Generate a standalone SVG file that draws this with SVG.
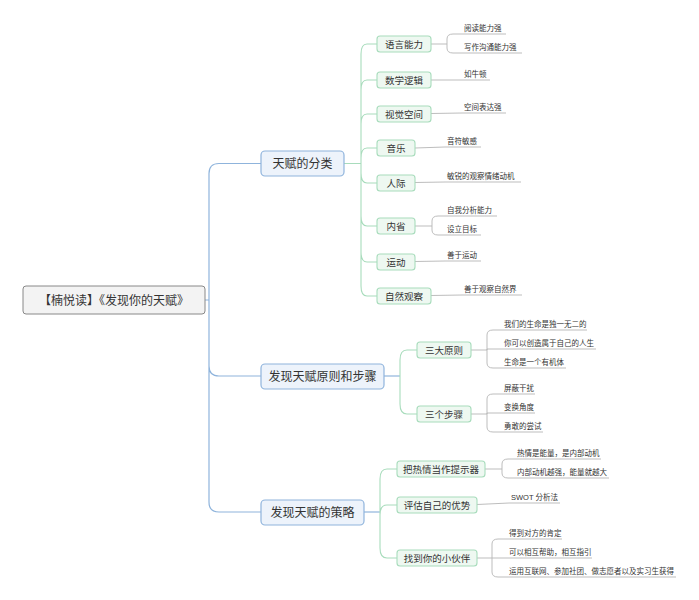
<svg xmlns="http://www.w3.org/2000/svg" width="699" height="600" viewBox="0 0 699 600">
<style>
text{font-family:"Liberation Sans","Noto Sans CJK SC",sans-serif;fill:#333}
.m{font-size:12px;text-anchor:middle}
.c{font-size:9.5px;text-anchor:middle}
.l{font-size:7.5px}
.bl{fill:none;stroke:#8fb4dc;stroke-width:1.2}
.gr{fill:none;stroke:#a8dcbc;stroke-width:1.1}
.gy{fill:none;stroke:#b5b5b5;stroke-width:0.9}
.mb{fill:#edf3fb;stroke:#8fb4dc;stroke-width:1.2}
.cb{fill:#eef8f1;stroke:#a8dcbc;stroke-width:1.1}
</style>
<rect width="699" height="600" fill="#fff"/>
<g id="connectors">
<path class="bl" d="M205 300H209M261 163.5H219Q209 163.5 209 173.5V502Q209 512 219 512H261M209 366Q209 376 219 376H261"/>
<path class="gr" d="M344 163.5H361M361 163.5V54Q361 44 367 44H377M361 90Q361 80 367 80H377M361 124Q361 114 367 114H377M361 158Q361 148 367 148H377M361 173Q361 183 367 183H377M361 216Q361 226 367 226H377M361 252Q361 262 367 262H377M361 163.5V286Q361 296 367 296H377"/>
<path class="bl" d="M384 376H400"/>
<path class="gr" d="M400 376V360Q400 350 407 350H417M400 376V404Q400 414 407 414H417"/>
<path class="bl" d="M364 512H380"/>
<path class="gr" d="M380 512V479Q380 469 387 469H397M380 512V515Q380 505 387 505H397M380 512V548Q380 558 387 558H397"/>
<path class="gy" d="M431 44H447M447 44V39Q447 34 453 34H506M447 44V48Q447 53 453 53H522
M431 80H462H490M431 113.5L462 113H506
M415 148L445 147H481M415 182.5L445 182H521
M415 226H432M432 226V221Q432 216 438 216H497M432 226V230Q432 235 438 235H481
M415 261.5L445 261H481M431 295.5L462 295H522
M471 350H487M487 350V335Q487 330 493 330H587M487 350V349H596M487 350V363Q487 368 493 368H566
M471 414H487M487 414V399Q487 394 493 394H535M487 414V413H535M487 414V427Q487 432 493 432H543
M485 469H502M502 469V464Q502 459 508 459H601M502 469V473Q502 478 508 478H609
M477 504.5L509 503H560
M477 558H492M492 558V544Q492 539 498 539H562M492 558H592M492 558V572Q492 577 498 577H676"/>
</g>
<g id="root"><rect x="23" y="286" width="182" height="28" rx="3" fill="#f3f3f3" stroke="#888" stroke-width="1"/><text class="m" x="114" y="304.5">【楠悦读】《发现你的天赋》</text></g>
<g id="n1"><rect class="mb" x="261" y="151" width="83" height="25" rx="4"/><text class="m" x="302.5" y="168">天赋的分类</text></g>
<g id="n2"><rect class="mb" x="261" y="364" width="123" height="25" rx="4"/><text class="m" x="322.5" y="381">发现天赋原则和步骤</text></g>
<g id="n3"><rect class="mb" x="261" y="500" width="103" height="25" rx="4"/><text class="m" x="312.5" y="517">发现天赋的策略</text></g>
<g id="c1"><rect class="cb" x="377" y="36" width="54" height="16" rx="3"/><text class="c" x="404" y="47.5">语言能力</text></g>
<g id="c2"><rect class="cb" x="377" y="72" width="54" height="16" rx="3"/><text class="c" x="404" y="83.5">数学逻辑</text></g>
<g id="c3"><rect class="cb" x="377" y="106" width="54" height="16" rx="3"/><text class="c" x="404" y="117.5">视觉空间</text></g>
<g id="c4"><rect class="cb" x="377" y="140" width="38" height="16" rx="3"/><text class="c" x="396" y="151.5">音乐</text></g>
<g id="c5"><rect class="cb" x="377" y="175" width="38" height="16" rx="3"/><text class="c" x="396" y="186.5">人际</text></g>
<g id="c6"><rect class="cb" x="377" y="218" width="38" height="16" rx="3"/><text class="c" x="396" y="229.5">内省</text></g>
<g id="c7"><rect class="cb" x="377" y="254" width="38" height="16" rx="3"/><text class="c" x="396" y="265.5">运动</text></g>
<g id="c8"><rect class="cb" x="377" y="288" width="54" height="16" rx="3"/><text class="c" x="404" y="299.5">自然观察</text></g>
<g id="c9"><rect class="cb" x="417" y="342" width="54" height="16" rx="3"/><text class="c" x="444" y="353.5">三大原则</text></g>
<g id="c10"><rect class="cb" x="417" y="406" width="54" height="16" rx="3"/><text class="c" x="444" y="417.5">三个步骤</text></g>
<g id="c11"><rect class="cb" x="397" y="461" width="88" height="16" rx="3"/><text class="c" x="441" y="472.5">把热情当作提示器</text></g>
<g id="c12"><rect class="cb" x="397" y="497" width="80" height="16" rx="3"/><text class="c" x="437" y="508.5">评估自己的优势</text></g>
<g id="c13"><rect class="cb" x="397" y="550" width="80" height="16" rx="3"/><text class="c" x="437" y="561.5">找到你的小伙伴</text></g>
<g id="leaves">
<text class="l" x="464" y="31">阅读能力强</text>
<text class="l" x="464" y="50">写作沟通能力强</text>
<text class="l" x="464" y="77">如牛顿</text>
<text class="l" x="464" y="110">空间表达强</text>
<text class="l" x="447" y="144">音符敏感</text>
<text class="l" x="447" y="179">敏锐的观察情绪动机</text>
<text class="l" x="447" y="213">自我分析能力</text>
<text class="l" x="447" y="232">设立目标</text>
<text class="l" x="447" y="258">善于运动</text>
<text class="l" x="464" y="292">善于观察自然界</text>
<text class="l" x="504" y="327">我们的生命是独一无二的</text>
<text class="l" x="504" y="346">你可以创造属于自己的人生</text>
<text class="l" x="504" y="365">生命是一个有机体</text>
<text class="l" x="504" y="391">屏蔽干扰</text>
<text class="l" x="504" y="410">变换角度</text>
<text class="l" x="504" y="429">勇敢的尝试</text>
<text class="l" x="517" y="456">热情是能量，是内部动机</text>
<text class="l" x="517" y="475">内部动机越强，能量就越大</text>
<text class="l" x="511" y="500">SWOT 分析法</text>
<text class="l" x="509" y="536">得到对方的肯定</text>
<text class="l" x="509" y="555">可以相互帮助，相互指引</text>
<text class="l" x="509" y="574">运用互联网、参加社团、做志愿者以及实习生获得</text>
</g>
</svg>
